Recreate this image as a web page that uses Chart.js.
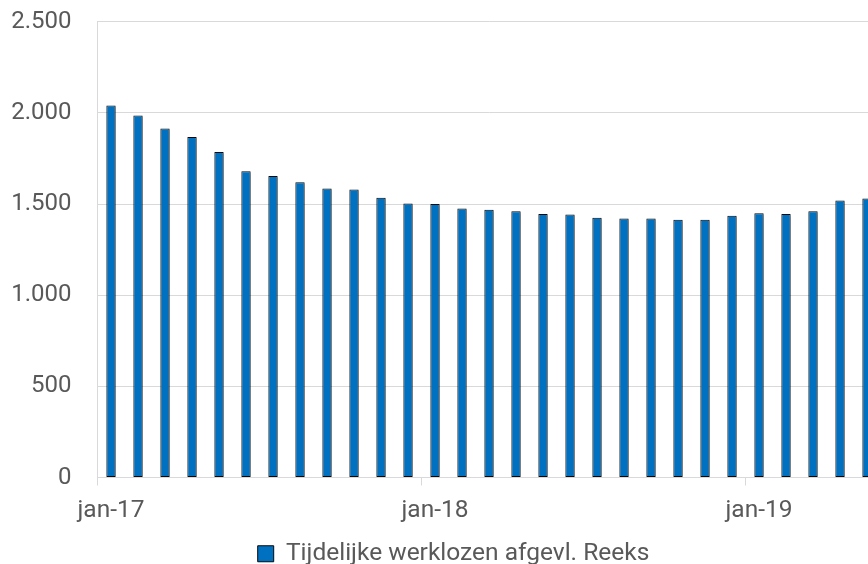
<!DOCTYPE html>
<html>
<head>
<meta charset="utf-8">
<script src="https://cdn.jsdelivr.net/npm/chart.js@4.4.1/dist/chart.umd.min.js"></script>
<style>
html,body{margin:0;padding:0;overflow:hidden;background:#fff;width:868px;height:564px;}
canvas{display:block;}
</style>
</head>
<body>
<canvas id="c" width="907" height="564"></canvas>
<script>
const categories = [
  "jan-17","feb-17","mrt-17","apr-17","mei-17","jun-17","jul-17","aug-17","sep-17","okt-17","nov-17","dec-17",
  "jan-18","feb-18","mrt-18","apr-18","mei-18","jun-18","jul-18","aug-18","sep-18","okt-18","nov-18","dec-18",
  "jan-19","feb-19","mrt-19","apr-19","mei-19"
];
const seriesName = "Tijdelijke werklozen afgevl. Reeks";
const seriesValues = [
  2040,1986,1914,1868,1786,1680,1654,1619,1585,1579,1535,1503,
  1500,1475,1469,1460,1445,1442,1425,1420,1420,1414,1414,1436,
  1449,1445,1460,1519,1530
];
const yTicks = [0,500,1000,1500,2000,2500];

const textColor = '#595959';
const gridColor = '#d9d9d9';
const fontFamily = 'Roboto, "Noto Sans", sans-serif';

function fmt(v){ return String(v).replace(/\B(?=(\d{3})+(?!\d))/g, '.'); }

const shadowPlugin = {
  id: 'barShadow',
  beforeDatasetsDraw(chart){
    const ctx = chart.ctx;
    ctx.save();
    ctx.shadowColor = 'rgba(0,0,0,0.3)';
    ctx.shadowBlur = 2;
    ctx.shadowOffsetX = 1.5;
    ctx.shadowOffsetY = 1.5;
  },
  afterDatasetsDraw(chart){
    chart.ctx.restore();
  }
};

new Chart(document.getElementById('c'), {
  type: 'bar',
  data: {
    labels: categories,
    datasets: [{
      label: seriesName,
      data: seriesValues,
      backgroundColor: '#0070C0',
      borderColor: '#0a0a0a',
      borderWidth: 1,
      borderSkipped: false,
      categoryPercentage: 1,
      barPercentage: 0.345
    }]
  },
  options: {
    responsive: false,
    devicePixelRatio: 1,
    animation: false,
    layout: { padding: { left: 0, right: 0, top: 21.7, bottom: -12 } },
    plugins: {
      tooltip: { enabled: false },
      legend: {
        position: 'bottom',
        labels: {
          color: textColor,
          font: { family: fontFamily, size: 24.5 },
          boxWidth: 16,
          boxHeight: 16,
          padding: 4
        }
      }
    },
    scales: {
      x: {
        offset: true,
        grid: {
          offset: true,
          drawOnChartArea: false,
          drawTicks: true,
          tickLength: 8,
          color: (ctx) => (ctx.index % 12 === 0 ? gridColor : 'rgba(0,0,0,0)')
        },
        border: { display: true, color: gridColor, width: 1 },
        ticks: {
          autoSkip: false,
          maxRotation: 0,
          minRotation: 0,
          padding: 11,
          color: textColor,
          font: { family: fontFamily, size: 24.5 },
          callback: (v, i) => (i % 12 === 0 ? categories[i] : '')
        },
        afterFit: (s) => { s.height = 60; }
      },
      y: {
        min: 0,
        max: 2500,
        afterBuildTicks: (s) => { s.ticks = yTicks.map(v => ({ value: v })); },
        grid: { color: gridColor, drawTicks: true, tickLength: 24, tickColor: 'rgba(0,0,0,0)', lineWidth: 1 },
        border: { display: true, color: gridColor, width: 1 },
        ticks: {
          padding: 2,
          color: textColor,
          font: { family: fontFamily, size: 24 },
          callback: (v) => fmt(v)
        },
        afterFit: (s) => { s.width = 97.5; }
      },
      yRight: {
        position: 'right',
        display: true,
        grid: { display: false, drawTicks: false },
        border: { display: false },
        ticks: { display: false },
        afterFit: (s) => { s.width = 26.5; }
      }
    }
  },
  plugins: [shadowPlugin]
});
</script>
</body>
</html>
